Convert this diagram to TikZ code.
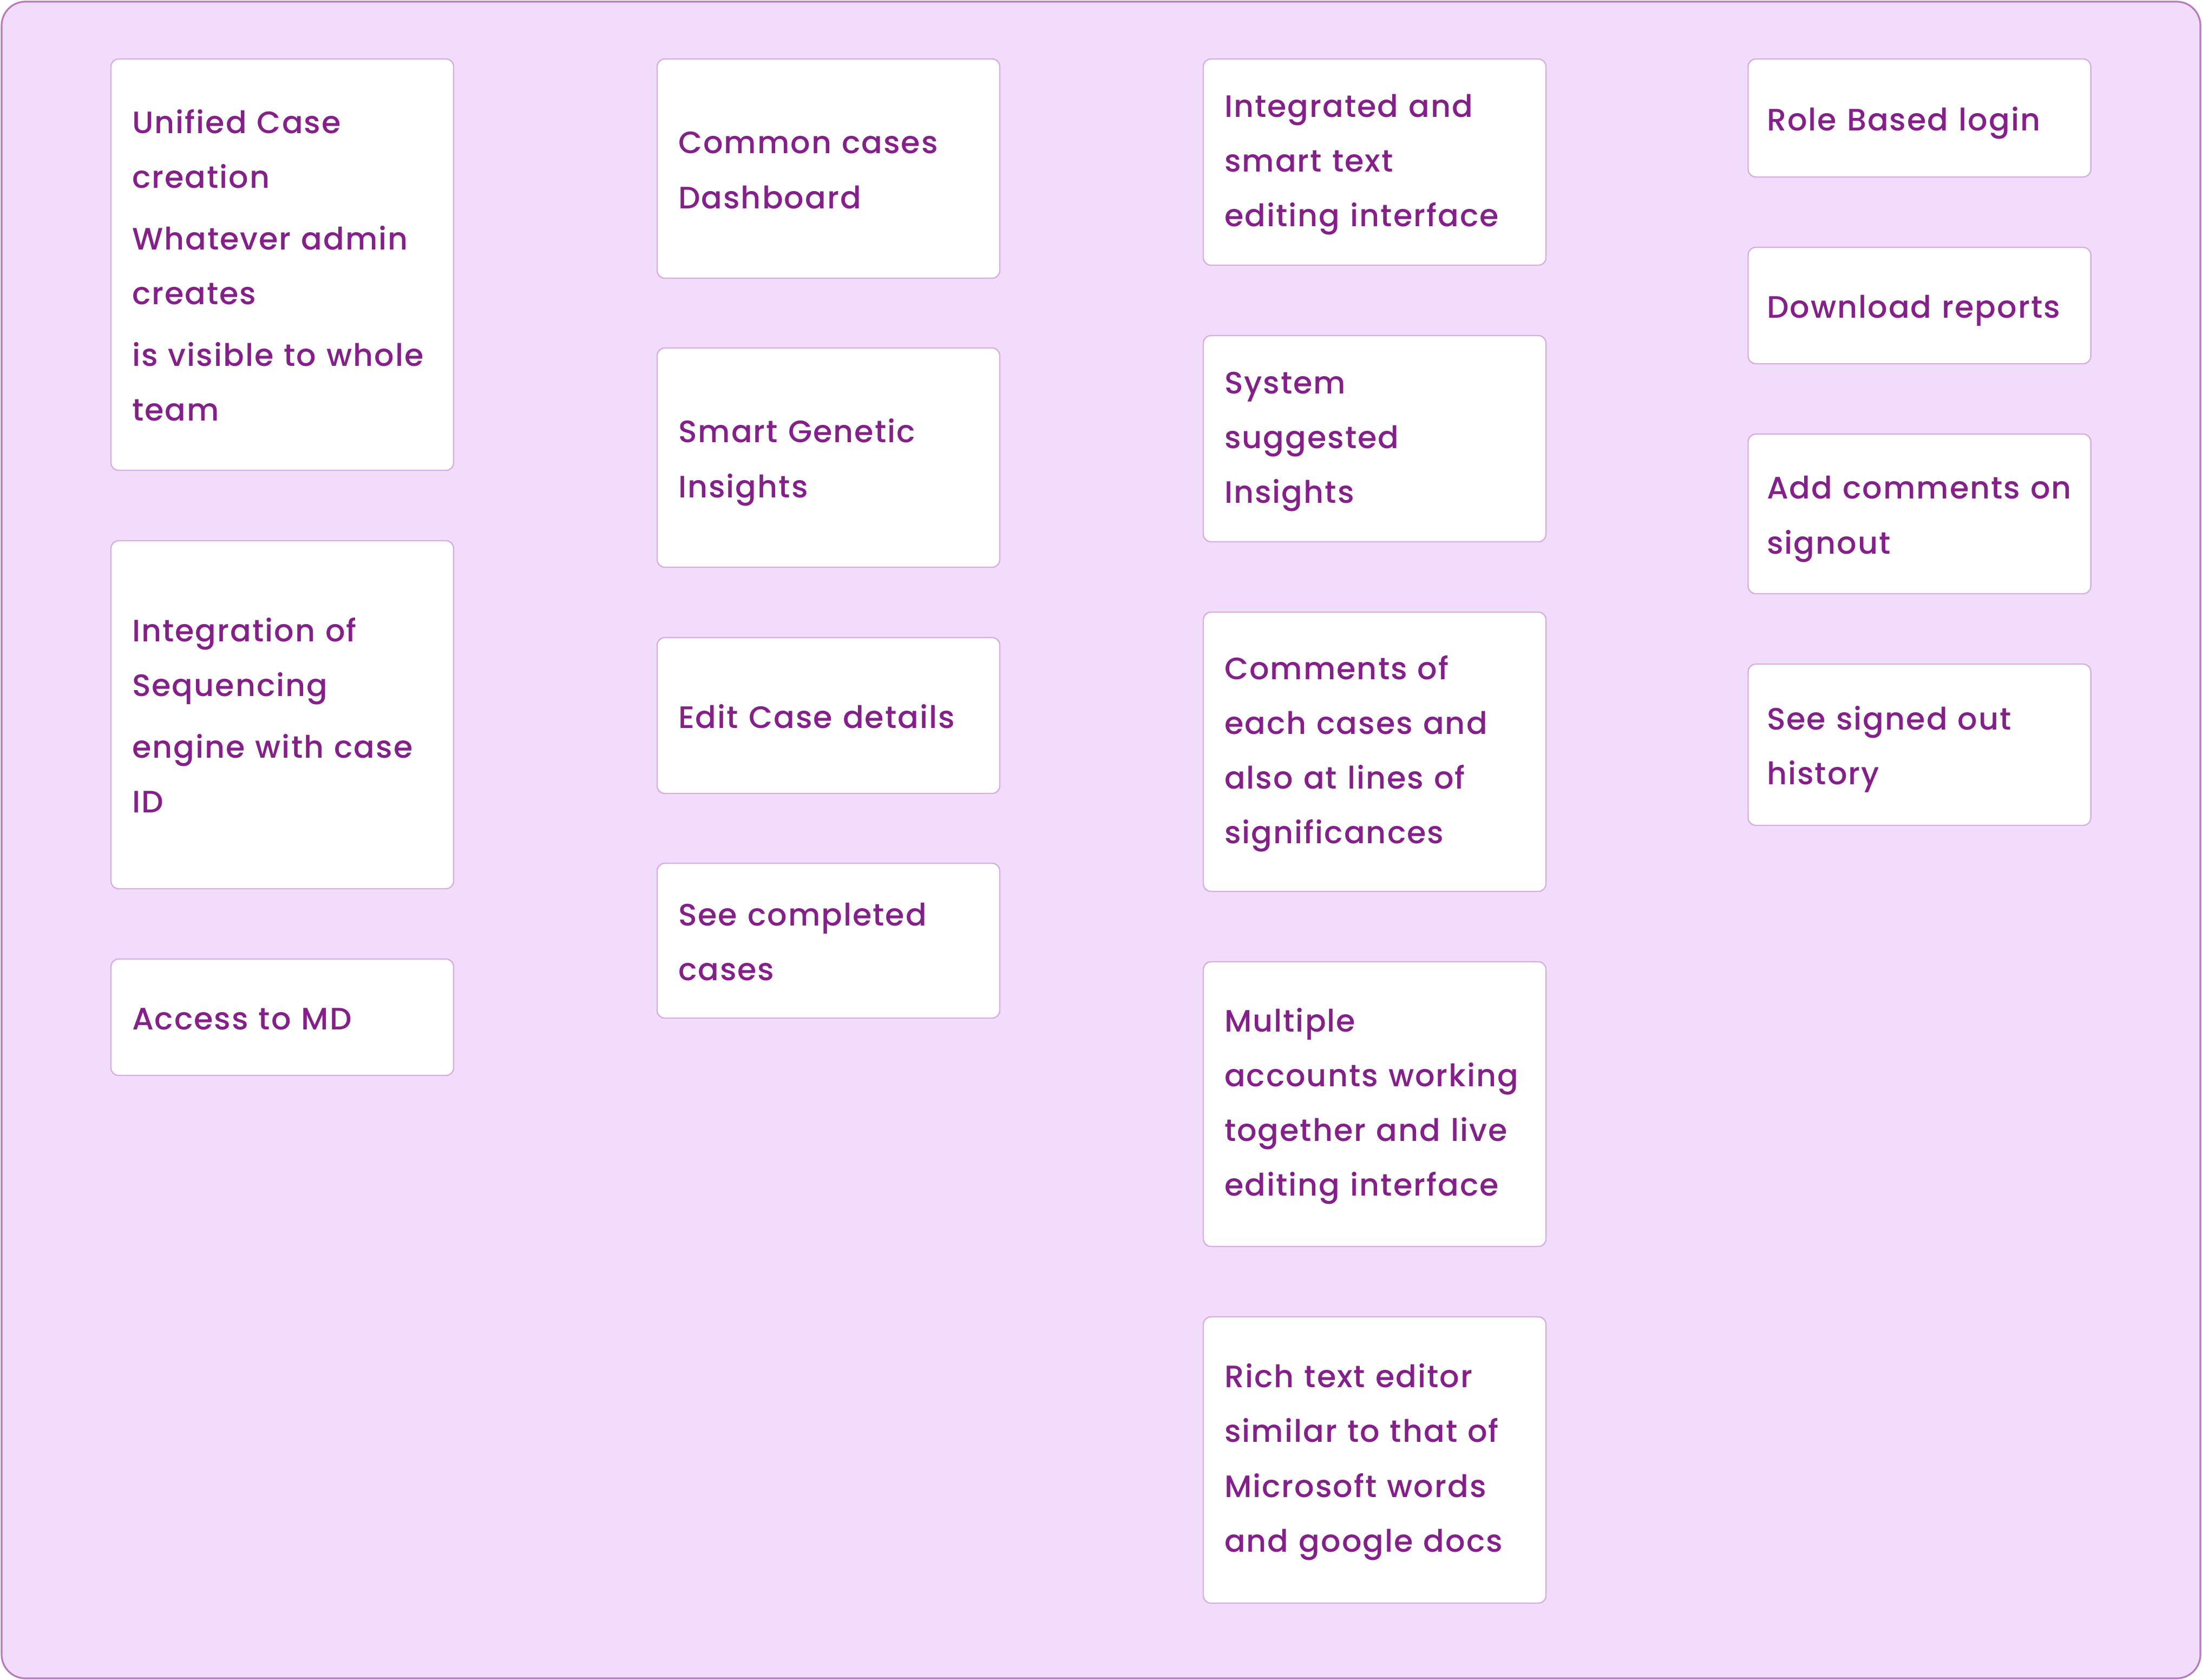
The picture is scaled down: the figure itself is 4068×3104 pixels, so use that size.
\documentclass[tikz,border=0pt]{standalone}
\usepackage{fontspec}
\setmainfont{Poppins}[UprightFont=* Medium, LetterSpace=3.5]
\definecolor{bgfill}{HTML}{F2DCFC}
\definecolor{outerline}{HTML}{B57BBE}
\definecolor{cardline}{HTML}{D7AEDF}
\definecolor{txt}{HTML}{85208A}
\tikzset{
  cardbase/.style={draw=cardline, line width=0.6pt, fill=white, rounded corners=3.5pt,
    minimum width=158.25pt, inner xsep=9.75pt, inner ysep=0pt,
    text width=138.75pt, align=left, text=txt,
    font=\fontsize{14.3pt}{25.3pt}\selectfont,
    execute at end node={\rule[-4pt]{0pt}{4pt}}},
  card/.style={cardbase, execute at begin node={\rule{0pt}{15.5pt}}},
  cardm/.style={cardbase, execute at begin node={\rule{0pt}{13pt}}},
  cardr/.style={card, inner xsep=8.6pt, text width=141pt},
}
\newcommand{\pgap}{\\[3.2pt]}
\begin{document}
\begin{tikzpicture}[x=0.25pt,y=-0.25pt]
\useasboundingbox (0,0) rectangle (4068,3104);
\draw[outerline, fill=bgfill, line width=0.8pt, rounded corners=11pt] (3,3) rectangle (4065,3101);
% column 1
\node[card, minimum height=190pt] (a) at (521.5,489) {Unified Case\\creation\pgap Whatever admin\\creates\pgap is visible to whole\\team};
\node[card, minimum height=160.75pt] (b) at (521.5,1320.5) {Integration of\\Sequencing\pgap engine with case\\ID};
\node[card, minimum height=53.75pt] (c) at (521.5,1879.5) {Access to MD};
% column 2
\node[card, minimum height=101.25pt] (d) at (1530.5,311.5) {Common cases\\Dashboard};
\node[card, minimum height=101.25pt] (e) at (1530.5,845.5) {Smart Genetic\\Insights};
\node[card, minimum height=72pt] (f) at (1530.5,1322) {Edit Case details};
\node[card, minimum height=71.5pt] (g) at (1530.5,1738) {See completed\\cases};
% column 3
\node[cardm, minimum height=95.25pt] (h) at (2539.5,299.5) {Integrated and\\smart text\\editing interface};
\node[cardm, minimum height=95.25pt] (i) at (2539.5,810.5) {System\\suggested\\Insights};
\node[cardm, minimum height=129pt] (j) at (2539.5,1389) {Comments of\\each cases and\\also at lines of\\significances};
\node[cardm, minimum height=131.5pt] (k) at (2539.5,2040) {Multiple\\accounts working\\together and live\\editing interface};
\node[cardm, minimum height=132.25pt] (l) at (2539.5,2697.5) {Rich text editor\\similar to that of\\Microsoft words\\and google docs};
% column 4
\node[cardr, minimum height=54.5pt] (m) at (3546,218) {Role Based login};
\node[cardr, minimum height=53.75pt] (n) at (3546,564.5) {Download reports};
\node[cardr, minimum height=73.75pt] (o) at (3546,949.5) {\mbox{Add comments on}\\signout};
\node[cardr, minimum height=74.5pt] (p) at (3546,1376) {See signed out\\history};
\end{tikzpicture}
\end{document}
